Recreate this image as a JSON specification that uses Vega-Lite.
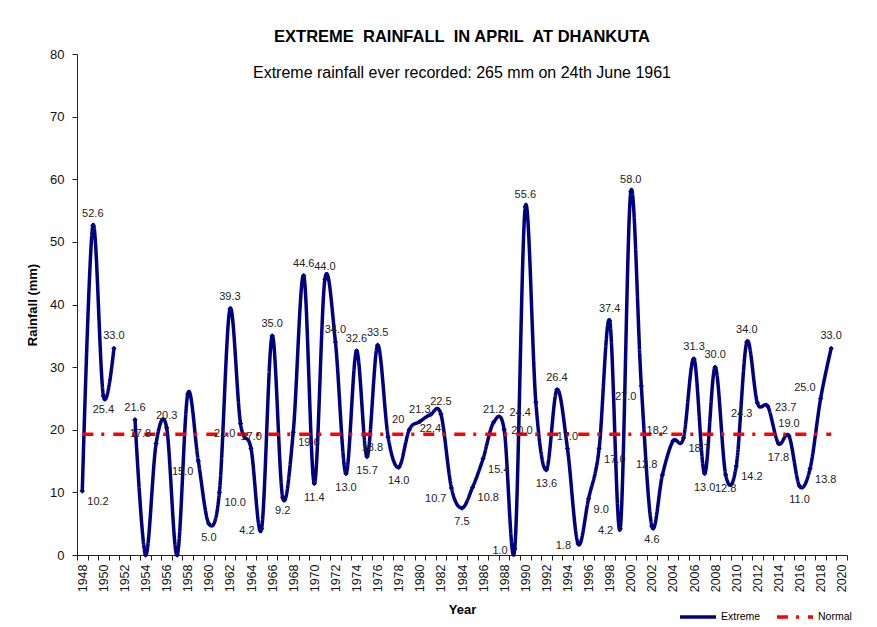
{
  "$schema": "https://vega.github.io/schema/vega-lite/v6.json",
  "width": 770,
  "height": 501,
  "autosize": {"type": "none"},
  "padding": {"left": 77, "top": 54, "right": 30, "bottom": 72},
  "background": "white",
  "config": {
    "font": "Liberation Sans",
    "view": {"stroke": null},
    "axis": {"domainColor": "#222", "tickColor": "#222", "labelColor": "#111", "titleColor": "#000", "grid": false}
  },
  "title": {
    "text": "EXTREME\u00a0 RAINFALL\u00a0 IN APRIL\u00a0 AT DHANKUTA",
    "subtitle": "Extreme rainfall ever recorded: 265 mm on 24th June 1961",
    "fontSize": 16.5,
    "fontWeight": "bold",
    "subtitleFontSize": 16,
    "subtitlePadding": 20,
    "offset": -33,
    "anchor": "middle",
    "color": "#000",
    "subtitleColor": "#000"
  },
  "data": {
    "values": [
      {"year": 1948, "value": 10.2, "label": "10.2", "series": "Extreme"},
      {"year": 1949, "value": 52.6, "label": "52.6", "series": "Extreme"},
      {"year": 1950, "value": 25.4, "label": "25.4", "series": "Extreme"},
      {"year": 1951, "value": 33.0, "label": "33.0", "series": "Extreme"},
      {"year": 1952, "value": null, "label": "", "series": "Extreme"},
      {"year": 1953, "value": 21.6, "label": "21.6", "series": "Extreme"},
      {"year": 1954, "value": 0, "label": "", "series": "Extreme"},
      {"year": 1955, "value": 17.8, "label": "17.8", "series": "Extreme"},
      {"year": 1956, "value": 20.3, "label": "20.3", "series": "Extreme"},
      {"year": 1957, "value": 0, "label": "", "series": "Extreme"},
      {"year": 1958, "value": 25.7, "label": "", "series": "Extreme"},
      {"year": 1959, "value": 15.0, "label": "15.0", "series": "Extreme"},
      {"year": 1960, "value": 5.0, "label": "5.0", "series": "Extreme"},
      {"year": 1961, "value": 10.0, "label": "10.0", "series": "Extreme"},
      {"year": 1962, "value": 39.3, "label": "39.3", "series": "Extreme"},
      {"year": 1963, "value": 21.0, "label": "21.0", "series": "Extreme"},
      {"year": 1964, "value": 17.0, "label": "17.0", "series": "Extreme"},
      {"year": 1965, "value": 4.2, "label": "4.2", "series": "Extreme"},
      {"year": 1966, "value": 35.0, "label": "35.0", "series": "Extreme"},
      {"year": 1967, "value": 9.2, "label": "9.2", "series": "Extreme"},
      {"year": 1968, "value": 19.6, "label": "19.6", "series": "Extreme"},
      {"year": 1969, "value": 44.6, "label": "44.6", "series": "Extreme"},
      {"year": 1970, "value": 11.4, "label": "11.4", "series": "Extreme"},
      {"year": 1971, "value": 44.0, "label": "44.0", "series": "Extreme"},
      {"year": 1972, "value": 34.0, "label": "34.0", "series": "Extreme"},
      {"year": 1973, "value": 13.0, "label": "13.0", "series": "Extreme"},
      {"year": 1974, "value": 32.6, "label": "32.6", "series": "Extreme"},
      {"year": 1975, "value": 15.7, "label": "15.7", "series": "Extreme"},
      {"year": 1976, "value": 33.5, "label": "33.5", "series": "Extreme"},
      {"year": 1977, "value": 18.8, "label": "18.8", "series": "Extreme"},
      {"year": 1978, "value": 14.0, "label": "14.0", "series": "Extreme"},
      {"year": 1979, "value": 20.0, "label": "20", "series": "Extreme"},
      {"year": 1980, "value": 21.3, "label": "21.3", "series": "Extreme"},
      {"year": 1981, "value": 22.4, "label": "22.4", "series": "Extreme"},
      {"year": 1982, "value": 22.5, "label": "22.5", "series": "Extreme"},
      {"year": 1983, "value": 10.7, "label": "10.7", "series": "Extreme"},
      {"year": 1984, "value": 7.5, "label": "7.5", "series": "Extreme"},
      {"year": 1985, "value": 10.8, "label": "10.8", "series": "Extreme"},
      {"year": 1986, "value": 15.4, "label": "15.4", "series": "Extreme"},
      {"year": 1987, "value": 21.2, "label": "21.2", "series": "Extreme"},
      {"year": 1988, "value": 20.0, "label": "20.0", "series": "Extreme"},
      {"year": 1989, "value": 1.0, "label": "1.0", "series": "Extreme"},
      {"year": 1990, "value": 55.6, "label": "55.6", "series": "Extreme"},
      {"year": 1991, "value": 24.4, "label": "24.4", "series": "Extreme"},
      {"year": 1992, "value": 13.6, "label": "13.6", "series": "Extreme"},
      {"year": 1993, "value": 26.4, "label": "26.4", "series": "Extreme"},
      {"year": 1994, "value": 17.0, "label": "17.0", "series": "Extreme"},
      {"year": 1995, "value": 1.8, "label": "1.8", "series": "Extreme"},
      {"year": 1996, "value": 9.0, "label": "9.0", "series": "Extreme"},
      {"year": 1997, "value": 17.0, "label": "17.0", "series": "Extreme"},
      {"year": 1998, "value": 37.4, "label": "37.4", "series": "Extreme"},
      {"year": 1999, "value": 4.2, "label": "4.2", "series": "Extreme"},
      {"year": 2000, "value": 58.0, "label": "58.0", "series": "Extreme"},
      {"year": 2001, "value": 27.0, "label": "27.0", "series": "Extreme"},
      {"year": 2002, "value": 4.6, "label": "4.6", "series": "Extreme"},
      {"year": 2003, "value": 12.8, "label": "12.8", "series": "Extreme"},
      {"year": 2004, "value": 18.2, "label": "18.2", "series": "Extreme"},
      {"year": 2005, "value": 18.7, "label": "18.7", "series": "Extreme"},
      {"year": 2006, "value": 31.3, "label": "31.3", "series": "Extreme"},
      {"year": 2007, "value": 13.0, "label": "13.0", "series": "Extreme"},
      {"year": 2008, "value": 30.0, "label": "30.0", "series": "Extreme"},
      {"year": 2009, "value": 12.8, "label": "12.8", "series": "Extreme"},
      {"year": 2010, "value": 14.2, "label": "14.2", "series": "Extreme"},
      {"year": 2011, "value": 34.0, "label": "34.0", "series": "Extreme"},
      {"year": 2012, "value": 24.3, "label": "24.3", "series": "Extreme"},
      {"year": 2013, "value": 23.7, "label": "23.7", "series": "Extreme"},
      {"year": 2014, "value": 17.8, "label": "17.8", "series": "Extreme"},
      {"year": 2015, "value": 19.0, "label": "19.0", "series": "Extreme"},
      {"year": 2016, "value": 11.0, "label": "11.0", "series": "Extreme"},
      {"year": 2017, "value": 13.8, "label": "13.8", "series": "Extreme"},
      {"year": 2018, "value": 25.0, "label": "25.0", "series": "Extreme"},
      {"year": 2019, "value": 33.0, "label": "33.0", "series": "Extreme"},
      {"year": 1948, "value": 19.3, "label": "", "series": "Normal"},
      {"year": 2019, "value": 19.3, "label": "", "series": "Normal"}
    ]
  },
  "encoding": {
    "x": {
      "field": "year",
      "type": "quantitative",
      "title": "Year",
      "scale": {"domain": [1947.5, 2020.5], "nice": false, "zero": false},
      "axis": {
        "values": [1947.5,1948,1948.5,1949.5,1950,1950.5,1951.5,1952,1952.5,1953.5,1954,1954.5,1955.5,1956,1956.5,1957.5,1958,1958.5,1959.5,1960,1960.5,1961.5,1962,1962.5,1963.5,1964,1964.5,1965.5,1966,1966.5,1967.5,1968,1968.5,1969.5,1970,1970.5,1971.5,1972,1972.5,1973.5,1974,1974.5,1975.5,1976,1976.5,1977.5,1978,1978.5,1979.5,1980,1980.5,1981.5,1982,1982.5,1983.5,1984,1984.5,1985.5,1986,1986.5,1987.5,1988,1988.5,1989.5,1990,1990.5,1991.5,1992,1992.5,1993.5,1994,1994.5,1995.5,1996,1996.5,1997.5,1998,1998.5,1999.5,2000,2000.5,2001.5,2002,2002.5,2003.5,2004,2004.5,2005.5,2006,2006.5,2007.5,2008,2008.5,2009.5,2010,2010.5,2011.5,2012,2012.5,2013.5,2014,2014.5,2015.5,2016,2016.5,2017.5,2018,2018.5,2019.5,2020,2020.5],
        "labelExpr": "datum.value % 2 === 0 ? '' + datum.value : ''",
        "tickOpacity": {"condition": {"test": "datum.value % 1 === 0", "value": 0}, "value": 1},
        "labelAngle": -90,
        "labelAlign": "right",
        "labelBaseline": "middle",
        "labelFontSize": 12.5,
        "labelPadding": 4,
        "labelOverlap": false,
        "labelFlush": false,
        "tickSize": 5,
        "titleFontSize": 13,
        "titleFontWeight": "bold",
        "titlePadding": 12
      }
    },
    "y": {
      "field": "value",
      "type": "quantitative",
      "title": "Rainfall (mm)",
      "scale": {"domain": [0, 80], "nice": false},
      "axis": {
        "values": [0, 10, 20, 30, 40, 50, 60, 70, 80],
        "labelFontSize": 13,
        "labelPadding": 8,
        "tickSize": 5,
        "titleFontSize": 13,
        "titleFontWeight": "bold",
        "titlePadding": 10
      }
    }
  },
  "layer": [
    {
      "mark": {"type": "line", "interpolate": "cardinal", "strokeWidth": 3.5, "invalid": "break-paths-filter-domains"},
      "encoding": {
        "color": {
          "field": "series",
          "type": "nominal",
          "scale": {"domain": ["Extreme", "Normal"], "range": ["#000080", "#ff0000"]},
          "legend": {
            "title": null,
            "orient": "none",
            "legendX": 601,
            "legendY": 543,
            "direction": "horizontal",
            "symbolType": "stroke",
            "symbolSize": 1300,
            "symbolStrokeWidth": 3.5,
            "labelFontSize": 10.5,
            "labelColor": "#000",
            "labelOffset": 3,
            "columnPadding": 8
          }
        },
        "strokeDash": {
          "field": "series",
          "type": "nominal",
          "scale": {"domain": ["Extreme", "Normal"], "range": [[1, 0], [11, 8, 3, 9]]},
          "legend": {
            "title": null,
            "orient": "none",
            "legendX": 601,
            "legendY": 543,
            "direction": "horizontal",
            "symbolType": "stroke",
            "symbolSize": 1300,
            "symbolStrokeWidth": 3.5,
            "labelFontSize": 10.5,
            "labelColor": "#000",
            "labelOffset": 3,
            "columnPadding": 8
          }
        }
      }
    },
    {
      "transform": [{"filter": "datum.series === 'Extreme' && datum.value != null"}],
      "mark": {"type": "point", "shape": "diamond", "filled": true, "size": 28, "color": "#000080", "opacity": 1}
    },
    {
      "transform": [
        {"filter": "datum.series === 'Extreme'"},
        {"window": [{"op": "lag", "field": "value", "as": "prev"}, {"op": "lead", "field": "value", "as": "next"}], "sort": [{"field": "year"}]},
        {"filter": "datum.value != null && datum.label != ''"}
      ],
      "layer": [
        {
          "transform": [{"filter": "datum.value >= datum.prev && datum.value >= datum.next"}],
          "mark": {"type": "text", "fontSize": 11, "color": "#222", "baseline": "bottom", "dy": -7}
        },
        {
          "transform": [{"filter": "datum.value < datum.prev && datum.value < datum.next && datum.value >= 4.5"}],
          "mark": {"type": "text", "fontSize": 11, "color": "#222", "baseline": "top", "dy": 8}
        },
        {
          "transform": [{"filter": "datum.value < datum.prev && datum.value < datum.next && datum.value < 4.5"}],
          "mark": {"type": "text", "fontSize": 11, "color": "#222", "align": "right", "baseline": "middle", "dx": -7, "dy": 2}
        },
        {
          "transform": [{"filter": "!(datum.value >= datum.prev && datum.value >= datum.next) && !(datum.value < datum.prev && datum.value < datum.next) && abs(datum.next - datum.prev) < 2.5 && datum.year % 2 === 0"}],
          "mark": {"type": "text", "fontSize": 11, "color": "#222", "baseline": "bottom", "dy": -7}
        },
        {
          "transform": [{"filter": "!(datum.value >= datum.prev && datum.value >= datum.next) && !(datum.value < datum.prev && datum.value < datum.next) && abs(datum.next - datum.prev) < 2.5 && datum.year % 2 !== 0"}],
          "mark": {"type": "text", "fontSize": 11, "color": "#222", "baseline": "top", "dy": 8}
        },
        {
          "transform": [{"filter": "!(datum.value >= datum.prev && datum.value >= datum.next) && !(datum.value < datum.prev && datum.value < datum.next) && abs(datum.next - datum.prev) >= 2.5 && datum.value >= (datum.prev + datum.next) / 2 && datum.next > datum.prev"}],
          "mark": {"type": "text", "fontSize": 11, "color": "#222", "align": "right", "baseline": "bottom", "dx": -5, "dy": -5}
        },
        {
          "transform": [{"filter": "!(datum.value >= datum.prev && datum.value >= datum.next) && !(datum.value < datum.prev && datum.value < datum.next) && abs(datum.next - datum.prev) >= 2.5 && datum.value >= (datum.prev + datum.next) / 2 && !(datum.next > datum.prev) && datum.prev - datum.value < 3"}],
          "mark": {"type": "text", "fontSize": 11, "color": "#222", "align": "left", "baseline": "middle", "dx": 7, "dy": 1}
        },
        {
          "transform": [{"filter": "!(datum.value >= datum.prev && datum.value >= datum.next) && !(datum.value < datum.prev && datum.value < datum.next) && abs(datum.next - datum.prev) >= 2.5 && datum.value >= (datum.prev + datum.next) / 2 && !(datum.next > datum.prev) && datum.prev - datum.value >= 3"}],
          "mark": {"type": "text", "fontSize": 11, "color": "#222", "baseline": "bottom", "dy": -7}
        },
        {
          "transform": [{"filter": "!(datum.value >= datum.prev && datum.value >= datum.next) && !(datum.value < datum.prev && datum.value < datum.next) && abs(datum.next - datum.prev) >= 2.5 && datum.value < (datum.prev + datum.next) / 2 && datum.next > datum.prev"}],
          "mark": {"type": "text", "fontSize": 11, "color": "#222", "align": "left", "baseline": "top", "dx": 5, "dy": 5}
        },
        {
          "transform": [{"filter": "!(datum.value >= datum.prev && datum.value >= datum.next) && !(datum.value < datum.prev && datum.value < datum.next) && abs(datum.next - datum.prev) >= 2.5 && datum.value < (datum.prev + datum.next) / 2 && !(datum.next > datum.prev)"}],
          "mark": {"type": "text", "fontSize": 11, "color": "#222", "align": "right", "baseline": "top", "dx": -5, "dy": 5}
        }
      ],
      "encoding": {"text": {"field": "label"}}
    }
  ]
}
